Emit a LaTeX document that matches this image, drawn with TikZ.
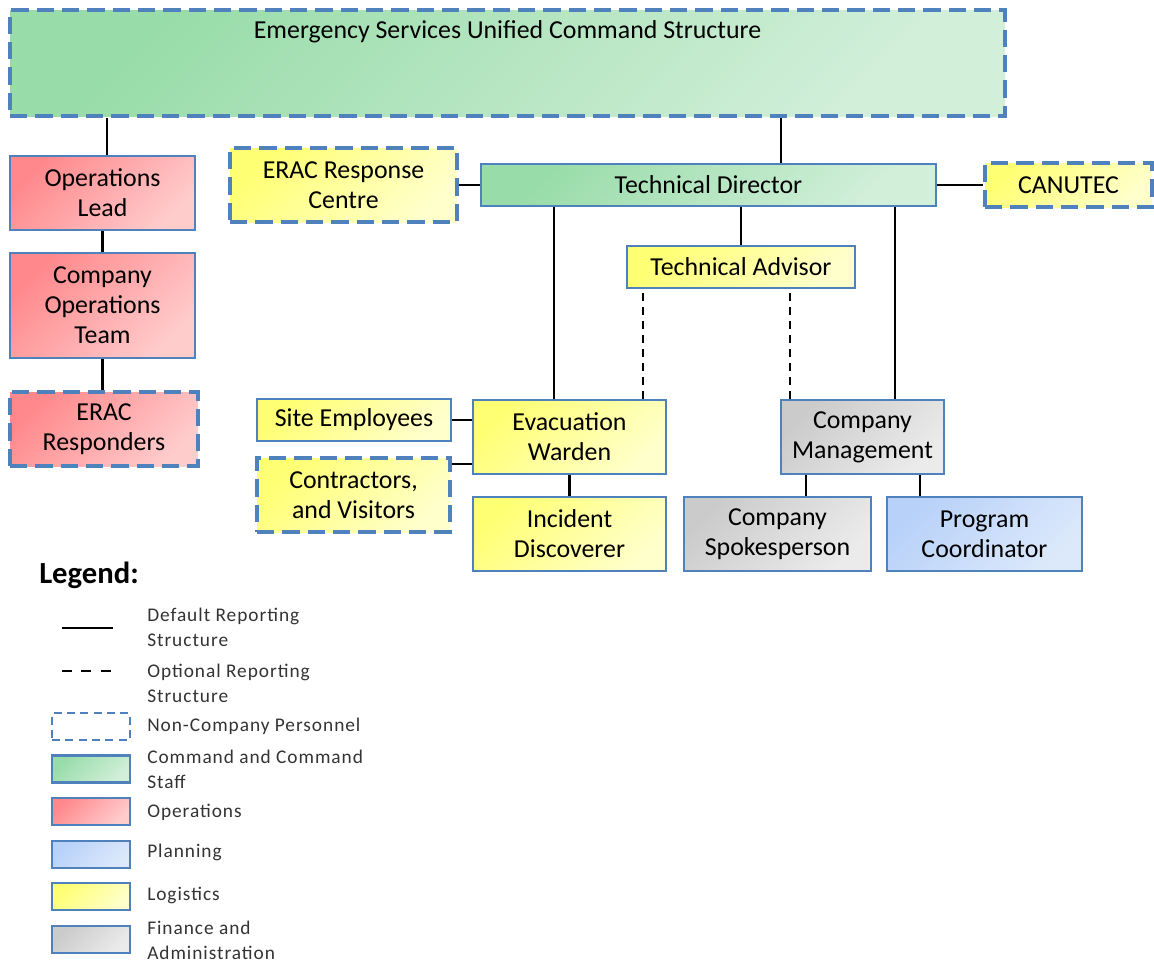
\documentclass[tikz,border=0pt]{standalone}
\usepackage{fontspec}
\setmainfont{Carlito}
\newfontfamily\legfont[LetterSpace=5]{Carlito}
\usetikzlibrary{calc}
\definecolor{edgeblue}{RGB}{79,129,189}
\definecolor{cmdA}{RGB}{140,216,158}
\definecolor{cmdB}{RGB}{222,243,228}
\definecolor{opsA}{RGB}{255,122,126}
\definecolor{opsB}{RGB}{255,218,218}
\definecolor{plnA}{RGB}{176,204,248}
\definecolor{plnB}{RGB}{228,238,252}
\definecolor{logA}{RGB}{255,255,96}
\definecolor{logB}{RGB}{255,255,222}
\definecolor{finA}{RGB}{196,196,196}
\definecolor{finB}{RGB}{242,242,242}
\begin{document}
\begin{tikzpicture}[x=0.75pt,y=-0.75pt,line width=1.9pt]
	\def\px{0.75pt}
	\def\boxht{74*\px}
	\def\slimht{42*\px}
	\tikzstyle{box}=[rectangle,draw=edgeblue,line width=1.5pt,align=center,inner sep=0pt,font=\fontsize{19.4}{22.5}\selectfont]
	\tikzstyle{ext}=[line width=3.6pt,dash pattern=on 13pt off 6pt]
	\tikzstyle{cmd}=[box,top color=cmdA!85!cmdB,bottom color=cmdB!85!cmdA,shading angle=45]
	\tikzstyle{ops}=[box,top color=opsA!85!opsB,bottom color=opsB!85!opsA,shading angle=45]
	\tikzstyle{pln}=[box,top color=plnA!85!plnB,bottom color=plnB!85!plnA,shading angle=45]
	\tikzstyle{logi}=[box,top color=logA!85!logB,bottom color=logB!85!logA,shading angle=45]
	\tikzstyle{fin}=[box,top color=finA!85!finB,bottom color=finB!85!finA,shading angle=45]
	\tikzstyle{opt}=[dash pattern=on 6pt off 4.5pt]
	\tikzstyle{keybox}=[minimum width=78*\px,minimum height=27*\px,line width=2pt]
	\tikzstyle{keytext}=[anchor=west,align=left,inner sep=0pt,text=black!80,font=\legfont\fontsize{14.5}{18.75}\selectfont]
	\useasboundingbox (0,0) rectangle (1154,964);

	% command
	\node[cmd,ext,minimum width=995*\px,text height=21.5pt,text depth=58pt] (top) at (507.5,63) {Emergency Services Unified Command Structure};
	\node[cmd,minimum width=455*\px,minimum height=\slimht] (td) at (708.5,185) {Technical Director};

	% operations
	\node[ops,minimum width=185*\px,minimum height=\boxht] (ops) at (102.5,193) {Operations\\Lead};
	\node[ops,minimum width=185*\px,minimum height=105*\px] (cot) at (102.5,305.5) {Company\\Operations\\Team};
	\node[ops,ext,minimum width=188*\px,minimum height=\boxht] (erresp) at (104,429) {ERAC\\Responders};

	% logistics
	\node[logi,ext,minimum width=227*\px,minimum height=\boxht] (erc) at (343.5,185) {ERAC Response\\Centre};
	\node[logi,ext,minimum width=167*\px,minimum height=44*\px] (canutec) at (1068.5,185) {CANUTEC};
	\node[logi,minimum width=228*\px,minimum height=\slimht] (ta) at (741,267) {Technical Advisor};
	\node[logi,minimum width=193*\px,minimum height=\boxht] (ew) at (569.5,437) {Evacuation\\Warden};
	\node[logi,minimum width=194*\px,minimum height=\slimht] (site) at (354,420) {Site Employees};
	\node[logi,ext,minimum width=193*\px,minimum height=\boxht] (contr) at (353.5,495) {Contractors,\\and Visitors};
	\node[logi,minimum width=193*\px,minimum height=\boxht] (inc) at (569.5,534) {Incident\\Discoverer};

	% finance and planning
	\node[fin,minimum width=163*\px,minimum height=\boxht] (cm) at (862.5,437) {Company\\Management};
	\node[fin,minimum width=187*\px,minimum height=\boxht] (spokes) at (777.5,534) {Company\\Spokesperson};
	\node[pln,minimum width=195*\px,minimum height=\boxht] (prog) at (984.5,534) {Program\\Coordinator};

	% connector ends
	\coordinate (opsin) at ($(ops.north)+(4.5,0)$);
	\coordinate (tdin) at ($(td.north)+(72.5,0)$);
	\coordinate (ewin) at ($(ew.north)+(-15.5,0)$);
	\coordinate (cmin) at ($(cm.north)+(32.5,0)$);
	\coordinate (ewopt) at ($(ew.north)+(73.5,0)$);
	\coordinate (cmopt) at ($(cm.north)+(-72.5,0)$);
	\coordinate (contrin) at ($(ew.west)+(0,27)$);
	\coordinate (spin) at ($(cm.south)+(-56.5,0)$);
	\coordinate (pgin) at ($(cm.south)+(57.5,0)$);

	\path[draw=black]
		(opsin)		edge	(opsin |- top.south)
		(ops.south)	edge	(cot.north)
		(cot.south)	edge	(cot.south |- erresp.north)
		(erc.east)	edge	(erc.east -| td.west)
		(td.east)	edge	(td.east -| canutec.west)
		(tdin)		edge	(tdin |- top.south)
		(ta.north)	edge	(ta.north |- td.south)
		(ewin)		edge	(ewin |- td.south)
		(cmin)		edge	(cmin |- td.south)
		(ewopt)		edge[opt]	(ewopt |- ta.south)
		(cmopt)		edge[opt]	(cmopt |- ta.south)
		(site.east)	edge	(site.east -| ew.west)
		(contrin)	edge	(contrin -| contr.east)
		(ew.south)	edge	(inc.north)
		(spin)		edge	(spin |- spokes.north)
		(pgin)		edge	(pgin |- prog.north);

	% legend
	\node[anchor=west,inner sep=0pt,font=\bfseries\fontsize{23}{26}\selectfont] (legend) at (38,575) {Legend:};
	\coordinate (solidA) at (62,628);
	\coordinate (solidB) at (113,628);
	\coordinate (dashA) at (62,671);
	\coordinate (dashB) at (113,671);
	\draw[line width=2.2pt] (solidA) -- (solidB);
	\draw[line width=2.2pt,dash pattern=on 7.5pt off 7pt] (dashA) -- (dashB);
	\node[keytext] (solidkey) at (146,627.5) {Default Reporting\\Structure};
	\node[keytext] (dashkey) at (146,683.5) {Optional Reporting\\Structure};
	\node[box,keybox,line width=2pt,dash pattern=on 6pt off 4pt] (extbox) at (91,726.5) {};
	\node[keytext] (extkey) at (146,726) {Non-Company Personnel};
	\node[cmd,keybox] (cmdbox) at (91,769) {};
	\node[keytext] (cmdkey) at (146,769.5) {Command and Command\\Staff};
	\node[ops,keybox] (opsbox) at (91,811.5) {};
	\node[keytext] (opskey) at (146,812) {Operations};
	\node[pln,keybox] (plnbox) at (91,854.5) {};
	\node[keytext] (plnkey) at (146,852) {Planning};
	\node[logi,keybox] (logbox) at (91,896.5) {};
	\node[keytext] (logkey) at (146,895) {Logistics};
	\node[fin,keybox] (finbox) at (91,939.5) {};
	\node[keytext] (finkey) at (146,940.5) {Finance and\\Administration};
\end{tikzpicture}
\end{document}
